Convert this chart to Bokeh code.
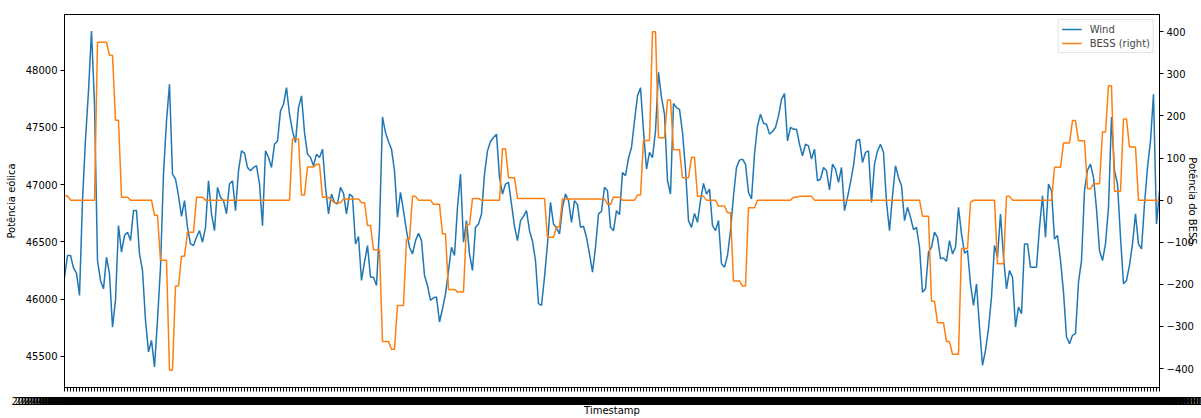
import pandas as pd
from bokeh.plotting import figure
from bokeh.models import (Range1d, LinearAxis, FixedTicker, Legend, LegendItem,
                          ColumnDataSource, AllLabels)
from bokeh.embed import file_html
from bokeh.resources import INLINE

wind = [
    46191, 46380, 46380, 46272, 46226, 46031, 46859, 47396, 47817, 48340,
    47701, 46336, 46162, 46089, 46365, 46220, 45755, 45988, 46641, 46409,
    46554, 46583, 46510, 46772, 46772, 46394, 46249, 45813, 45537, 45639,
    45407, 45813, 46278, 47091, 47556, 47875, 47091, 47048, 46902, 46722,
    46859, 46626, 46481, 46467, 46539, 46597, 46496, 46626, 47033, 46743,
    46597, 46975, 46888, 46859, 46743, 47004, 47033, 46772, 47120, 47294,
    47274, 47149, 47120, 47149, 47164, 47004, 46641, 47294, 47236, 47149,
    47352, 47381, 47643, 47701, 47846, 47614, 47469, 47367, 47672, 47774,
    47454, 47265, 47236, 47164, 47265, 47236, 47309, 46975, 46743, 46917,
    46844, 46830,
    46975, 46923, 46743, 46917, 46894, 46481, 46545, 46162, 46322, 46467,
    46191, 46191, 46118, 46626, 47590, 47454, 47373, 47309, 47120, 46714,
    46931, 46772, 46597, 46452, 46394, 46510, 46574, 46510, 46205, 46118,
    45988, 46011, 46017, 45799, 45915, 46045, 46249, 46452, 46380, 46801,
    47091, 46496, 46685, 46394, 46249, 46626, 46655, 46743, 47091, 47294,
    47376, 47411, 47440, 47062, 46917, 47004, 47019, 46830, 46635, 46510,
    46685, 46722, 46772, 46597, 46505, 46336, 45959, 45944, 46191, 46481,
    46844, 46655, 46621, 46568, 46801, 46917, 46859, 46670, 46859, 46824,
    46626, 46635, 46539, 46394, 46234, 46452, 46743, 46766, 46975, 46946,
    46626, 46597,
    46772, 46737, 47106, 47077, 47231, 47323, 47556, 47774, 47846, 47469,
    47135, 47280, 47236, 47469, 47980, 47759, 47614, 47033, 46917, 47707,
    47672, 47657, 47454, 47135, 46685, 46626, 46748, 46670, 46859, 47010,
    46917, 46960, 46641, 46597, 46685, 46307, 46278, 46380, 46597, 46902,
    47149, 47213, 47222, 47178, 46931, 46873, 47265, 47512, 47614, 47535,
    47527, 47440, 47463, 47498, 47599, 47744, 47794, 47381, 47498, 47483,
    47483, 47352, 47251, 47352, 47338, 47222, 47309, 47033, 47048, 47149,
    47120, 46952, 47178, 47135, 47019, 47149, 46772, 46888, 47019, 47164,
    47381, 47396, 47193, 47280, 47294, 46844, 47178, 47294, 47352, 47280,
    46844, 46597,
    46902, 47164, 47062, 46990, 46685, 46801, 46714, 46606, 46626, 46452,
    46060, 46089, 46409, 46452, 46583, 46539, 46351, 46359, 46330, 46510,
    46394, 46452, 46801, 46568, 46400, 46423, 46133, 45944, 46133, 45755,
    45421, 45552, 45741, 46017, 46467, 46365, 46743, 46365, 46089, 46249,
    46191, 45755, 45930, 45871, 46481, 46481, 46278, 46278, 46278, 46626,
    46902, 46539, 47004, 46946, 46525, 46554, 46336, 46060, 45668, 45610,
    45683, 45697, 46147, 46336, 46946, 47126, 47178, 47062, 46786, 46423,
    46336, 46481, 46801, 47590, 47120, 47004, 46539, 46133, 46162, 46293,
    46481, 46743, 46481, 46438, 46830, 47149, 47381, 47788, 46656, 46944,
]

bess = [
    10, 10, 0, 0, 0, 0, 0, 0, 0, 0,
    0, 375, 375, 375, 375, 344, 344, 190, 190, 7,
    7, 7, 0, 0, 0, 0, 0, 0, 0, 0,
    -36, -36, -143, -143, -143, -404, -404, -204, -204, -133,
    -133, -76, -76, -76, 7, 7, 7, 0, 0, 0,
    0, 0, 0, 0, 0, 0, 0, 0, 0, 0,
    0, 0, 0, 0, 0, 0, 0, 0, 0, 0,
    0, 0, 0, 0, 0, 0, 145, 145, 145, 12,
    12, 79, 79, 79, 85, 85, 7, 7, 7, 0,
    -6, -6, -6, 3, 3, 3, 3, 3, 3, -6,
    -6, -60, -60, -118, -118, -118, -336, -336, -336, -354,
    -354, -250, -250, -250, -93, -93, 9, 9, 0, 0,
    0, 0, 0, -10, -10, -10, -80, -80, -212, -212,
    -212, -218, -218, -218, -58, -58, 4, 4, 4, 0,
    0, 0, 0, 0, 0, 0, 122, 122, 53, 53,
    53, 4, 4, 4, 4, 4, 4, 4, 4, 4,
    4, -88, -88, -88, -63, -63, 3, 3, 3, 3,
    3, 3, 3, 3, 3, 3, 3, 3, 3, 3,
    3, -10, -10, 7, 7, 7, 0, 0, 0, 0,
    0, 12, 12, 142, 142, 142, 400, 400, 148, 148,
    148, 238, 238, 120, 120, 120, 53, 53, 53, 102,
    102, 9, 9, 9, 0, 0, 0, 0, -14, -14,
    -14, -30, -30, -192, -192, -192, -204, -204, -18, -18,
    -18, 0, 0, 0, 0, 0, 0, 0, 0, 0,
    0, 0, 0, 7, 7, 9, 9, 9, 9, 9,
    0, 0, 0, 0, 0, 0, 0, 0, 0, 0,
    0, 0, 0, 0, 0, 0, 0, 0, 0, 0,
    0, 0, 0, 0, 0, 0, 0, 0, 0, 0,
    0, 0, 0, 0, 0, 0, -38, -38, -38, -240,
    -240, -291, -291, -291, -336, -336, -366, -366, -366, -115,
    -115, -115, -6, 0, 0, 0, 0, 0, 0, 0,
    0, -151, -151, -151, 9, 9, 0, 0, 0, 0,
    0, 0, 0, 0, 0, 0, 0, 0, 0, 0,
    78, 78, 78, 136, 136, 136, 189, 189, 141, 141,
    141, 27, 27, 39, 39, 39, 162, 162, 272, 272,
    21, 21, 21, 193, 193, 126, 126, 126, 0, 0,
    0, 0, 0, 0, 0, 0,
]

timestamps = list(pd.date_range("2021-01-01 00:00:00", periods=len(wind), freq="h")
                  .strftime("%Y-%m-%d %H:%M:%S"))
wind_ticks = [45500, 46000, 46500, 47000, 47500, 48000]
bess_ticks = [-400, -300, -200, -100, 0, 100, 200, 300, 400]

idx = list(range(len(wind)))
src = ColumnDataSource(dict(x=idx, wind=wind, bess=bess, ts=timestamps))

FONT = "DejaVu Sans"

p = figure(width=1201, height=418, output_backend="svg", toolbar_location=None,
           x_range=Range1d(0, len(wind) - 1), y_range=Range1d(45227, 48485),
           min_border_left=64, min_border_right=42, min_border_top=14,
           min_border_bottom=30)
p.extra_y_ranges = {"bess": Range1d(-445, 441)}
p.background_fill_color = "white"
p.border_fill_color = "white"
p.outline_line_color = "black"
p.outline_line_width = 1
p.xgrid.visible = False
p.ygrid.visible = False

r1 = p.line("x", "wind", source=src, line_color="#1f77b4", line_width=1.5)
r2 = p.line("x", "bess", source=src, line_color="#ff7f0e", line_width=1.5,
            y_range_name="bess")

left = p.yaxis[0]
left.ticker = FixedTicker(ticks=wind_ticks)
left.axis_label = "Potência eólica"

right = LinearAxis(y_range_name="bess", axis_label="Potência do BESS")
right.ticker = FixedTicker(ticks=bess_ticks)
right.major_label_overrides = {t: (("\u2212" + str(-t)) if t < 0 else str(t)) for t in bess_ticks}
p.add_layout(right, "right")

bottom = p.xaxis[0]
bottom.ticker = FixedTicker(ticks=idx)
bottom.major_label_overrides = {i: s for i, s in zip(idx, timestamps)}
bottom.major_label_policy = AllLabels()
bottom.axis_label = "Timestamp"

for ax in [left, right, bottom]:
    ax.major_label_text_font = FONT
    ax.major_label_text_font_size = "10px"
    ax.major_label_text_color = "black"
    ax.axis_label_text_font = FONT
    ax.axis_label_text_font_size = "10px"
    ax.axis_label_text_font_style = "normal"
    ax.axis_label_text_color = "black"
    ax.major_tick_out = 4
    ax.major_tick_in = 0
    ax.minor_tick_line_color = None
    ax.axis_line_color = "black"
    ax.major_tick_line_color = "black"
    ax.major_label_standoff = 3

left.axis_label_standoff = 6
right.axis_label_standoff = -10
bottom.major_label_standoff = 4
bottom.axis_label_standoff = -5

legend = Legend(items=[LegendItem(label="Wind", renderers=[r1]),
                       LegendItem(label="BESS (right)", renderers=[r2])],
                location="top_right", label_text_font=FONT,
                label_text_font_size="10px", border_line_color="#cccccc",
                background_fill_alpha=0.8, margin=5, padding=3, spacing=2,
                glyph_width=20, glyph_height=12, label_height=12,
                label_standoff=8)
p.add_layout(legend)

open("out.html", "w").write(file_html(p, INLINE))
